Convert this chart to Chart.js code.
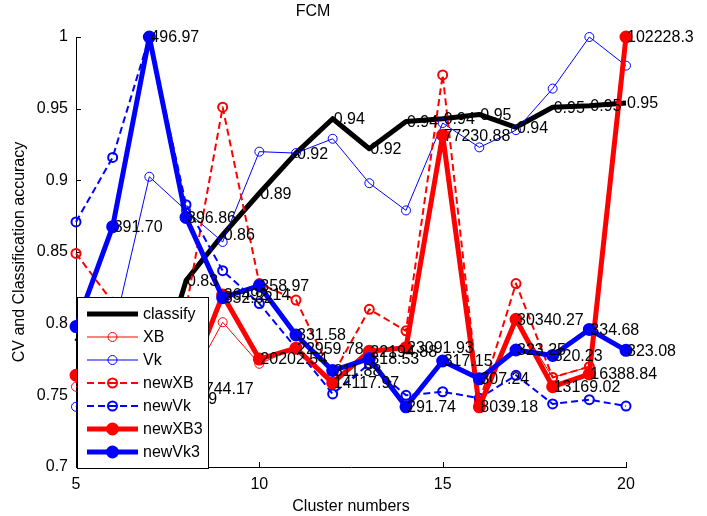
<!DOCTYPE html>
<html>
<head>
<meta charset="utf-8">
<title>FCM</title>
<script src="https://cdn.jsdelivr.net/npm/chart.js@4.4.1/dist/chart.umd.min.js"></script>
<style>
  html, body { margin: 0; padding: 0; background: #fff; }
  canvas { display: block; }
</style>
</head>
<body>
<canvas id="myChart" width="707" height="516"></canvas>
<script>
// cluster counts on the x axis
var clusters = [5, 6, 7, 8, 9, 10, 11, 12, 13, 14, 15, 16, 17, 18, 19, 20];

// classification accuracy
var classify = [0.79, 0.77, 0.745, 0.830, 0.862, 0.891, 0.919, 0.943, 0.922, 0.941, 0.943, 0.946, 0.937, 0.951, 0.952, 0.954];

// normalised validity indices
var xb = [0.756, 0.76, 0.75, 0.754, 0.801, 0.772, 0.783, 0.758, 0.781, 0.783, 0.932, 0.742, 0.803, 0.7625, 0.770, 1.0];
var vk = [0.742, 0.792, 0.9025, 0.879, 0.857, 0.920, 0.919, 0.929, 0.898, 0.879, 0.940, 0.923, 0.935, 0.964, 1.0, 0.980];
var newXB = [0.849, 0.815, 0.78, 0.81, 0.951, 0.828, 0.8165, 0.764, 0.810, 0.795, 0.9735, 0.745, 0.828, 0.7625, 0.770, 1.0];
var newVk = [0.871, 0.916, 1.0, 0.883, 0.837, 0.814, 0.783, 0.751, 0.772, 0.750, 0.7525, 0.748, 0.764, 0.744, 0.747, 0.7425];

// raw index values (printed next to the points, scaled into the axis range)
var newXB3 = [16071.05, 17524.63, 10052.69, 12744.17, 36492.14, 20202.54, 22959.78, 14117.97, 22194.88, 23091.93, 77230.88, 8039.18, 30340.27, 13169.02, 16388.84, 102228.3];
var newVk3 = [336.28, 391.70, 496.97, 396.86, 352.32, 358.97, 331.58, 311.88, 318.53, 291.74, 317.15, 307.24, 323.25, 320.23, 334.68, 323.08];

var xTickLabels = ['5', '10', '15', '20'];
var yTickLabels = ['0.7', '0.75', '0.8', '0.85', '0.9', '0.95', '1'];

var normLow = 0.742;

// min-max scaling of raw values into [normLow, 1]
function scaleRaw(arr) {
  var lo = Math.min.apply(null, arr);
  var hi = Math.max.apply(null, arr);
  return arr.map(function (v) { return normLow + (v - lo) / (hi - lo) * (1 - normLow); });
}

function pts(arr) {
  return clusters.map(function (c, i) { return { x: c, y: arr[i] }; });
}

var FONT = "'Liberation Sans', Arial, Helvetica, sans-serif";
Chart.defaults.font.family = FONT;
Chart.defaults.font.size = 16;
Chart.defaults.color = '#000';

var RED = '#ff0000', BLUE = '#0000ff';

var datasets = [
  { label: 'classify', data: pts(classify), borderColor: '#000', borderWidth: 5, pointRadius: 0,
    labels: classify.map(function (v) { return v.toFixed(2); }) },
  { label: 'XB', data: pts(xb), borderColor: RED, borderWidth: 1, pointRadius: 4.5,
    pointBorderWidth: 1, pointBorderColor: RED, pointBackgroundColor: 'rgba(0,0,0,0)' },
  { label: 'Vk', data: pts(vk), borderColor: BLUE, borderWidth: 1, pointRadius: 4.5,
    pointBorderWidth: 1, pointBorderColor: BLUE, pointBackgroundColor: 'rgba(0,0,0,0)' },
  { label: 'newXB', data: pts(newXB), borderColor: RED, borderWidth: 2, borderDash: [7, 4], pointRadius: 4.5,
    pointBorderWidth: 2, pointBorderColor: RED, pointBackgroundColor: 'rgba(0,0,0,0)' },
  { label: 'newVk', data: pts(newVk), borderColor: BLUE, borderWidth: 2, borderDash: [7, 4], pointRadius: 4.5,
    pointBorderWidth: 2, pointBorderColor: BLUE, pointBackgroundColor: 'rgba(0,0,0,0)' },
  { label: 'newXB3', data: pts(scaleRaw(newXB3)), borderColor: RED, borderWidth: 5, pointRadius: 5,
    pointBorderWidth: 3, pointBorderColor: RED, pointBackgroundColor: RED,
    labels: newXB3.map(function (v) { return String(parseFloat(v.toPrecision(7))); }) },
  { label: 'newVk3', data: pts(scaleRaw(newVk3)), borderColor: BLUE, borderWidth: 5, pointRadius: 5,
    pointBorderWidth: 3, pointBorderColor: BLUE, pointBackgroundColor: BLUE,
    labels: newVk3.map(function (v) { return v.toFixed(2); }) }
];

// later series on top (lower order is drawn last)
datasets.forEach(function (ds, i) {
  ds.order = datasets.length - i;
  ds.clip = false;
  ds.tension = 0;
  ds.fill = false;
  ds.borderJoinStyle = 'round';
  ds.pointHoverRadius = ds.pointRadius;
});

// inward tick marks, value labels and the boxed legend
var decorations = {
  id: 'decorations',
  beforeDatasetsDraw: function (chart) {
    var ctx = chart.ctx, a = chart.chartArea;
    var xs = chart.scales.x, ys = chart.scales.y;
    ctx.save();
    ctx.strokeStyle = '#000';
    ctx.lineWidth = 1;
    ctx.beginPath();
    ys.ticks.forEach(function (t) {
      var py = Math.round(ys.getPixelForValue(t.value)) + 0.5;
      ctx.moveTo(a.left, py); ctx.lineTo(a.left + 5, py);
    });
    xs.ticks.forEach(function (t) {
      var px = Math.round(xs.getPixelForValue(t.value)) + 0.5;
      ctx.moveTo(px, a.bottom); ctx.lineTo(px, a.bottom - 5);
    });
    ctx.stroke();
    ctx.restore();
  },
  afterDatasetsDraw: function (chart) {
    var ctx = chart.ctx;
    ctx.save();
    ctx.font = '16px ' + FONT;
    ctx.fillStyle = '#000';
    ctx.textAlign = 'left';
    ctx.textBaseline = 'middle';
    chart.data.datasets.forEach(function (ds, i) {
      if (!ds.labels) return;
      var meta = chart.getDatasetMeta(i);
      meta.data.forEach(function (p, j) {
        ctx.fillText(ds.labels[j], p.x + 1, p.y + 1);
      });
    });
    ctx.restore();
  },
  afterDraw: function (chart) {
    var ctx = chart.ctx, a = chart.chartArea;
    var w = 131, h = 171;
    var left = a.left + 1, top = a.bottom + 1 - h;
    ctx.save();
    ctx.fillStyle = '#fff';
    ctx.fillRect(left, top, w, h);
    ctx.strokeStyle = '#000';
    ctx.lineWidth = 1;
    ctx.strokeRect(left + 0.5, top + 0.5, w, h);
    ctx.font = '16px ' + FONT;
    ctx.textBaseline = 'middle';
    chart.data.datasets.forEach(function (ds, i) {
      var y = top + 17 + i * 23;
      var x0 = left + 10, x1 = left + 61, xm = (x0 + x1) / 2;
      ctx.save();
      ctx.strokeStyle = ds.borderColor;
      ctx.lineWidth = ds.borderWidth;
      ctx.setLineDash(ds.borderDash || []);
      ctx.beginPath();
      ctx.moveTo(x0, y); ctx.lineTo(x1, y);
      ctx.stroke();
      ctx.setLineDash([]);
      if (ds.pointRadius > 0) {
        ctx.beginPath();
        ctx.arc(xm, y, ds.pointRadius, 0, Math.PI * 2);
        if (ds.pointBackgroundColor !== 'rgba(0,0,0,0)') {
          ctx.fillStyle = ds.pointBackgroundColor;
          ctx.fill();
        }
        ctx.lineWidth = ds.pointBorderWidth;
        ctx.strokeStyle = ds.pointBorderColor;
        ctx.stroke();
      }
      ctx.restore();
      ctx.fillStyle = '#000';
      ctx.fillText(ds.label, left + 66, y + 1);
    });
    ctx.restore();
  }
};

var chart = new Chart(document.getElementById('myChart'), {
  type: 'line',
  data: { datasets: datasets },
  options: {
    responsive: false,
    animation: false,
    layout: { padding: { left: 0, right: 81, top: 0, bottom: 0 } },
    plugins: {
      legend: { display: false },
      tooltip: { enabled: false },
      title: {
        display: true,
        text: 'FCM',
        color: '#000',
        font: { size: 16, weight: 'normal' },
        padding: { top: 2, bottom: 15.8 }
      }
    },
    scales: {
      x: {
        type: 'linear',
        min: 5,
        max: 20,
        grid: { display: false, drawTicks: false },
        border: { display: true, color: '#000', width: 1 },
        ticks: {
          stepSize: 5,
          padding: 8,
          color: '#000',
          font: { size: 16 },
          callback: function (v, i) { return xTickLabels[i]; }
        },
        title: {
          display: true,
          text: 'Cluster numbers',
          color: '#000',
          font: { size: 16 },
          padding: { top: 0, bottom: 0 }
        },
        afterFit: function (scale) { scale.height = 49; }
      },
      y: {
        min: 0.7,
        max: 1,
        grid: { display: false, drawTicks: false },
        border: { display: true, color: '#000', width: 1 },
        ticks: {
          stepSize: 0.05,
          padding: 8,
          color: '#000',
          font: { size: 16 },
          callback: function (v, i) { return yTickLabels[i]; }
        },
        title: {
          display: true,
          text: 'CV and Classification accuracy',
          color: '#000',
          font: { size: 16 },
          padding: { top: 10, bottom: 0 }
        },
        afterFit: function (scale) { scale.width = 76; }
      }
    }
  },
  plugins: [decorations]
});
</script>
</body>
</html>
